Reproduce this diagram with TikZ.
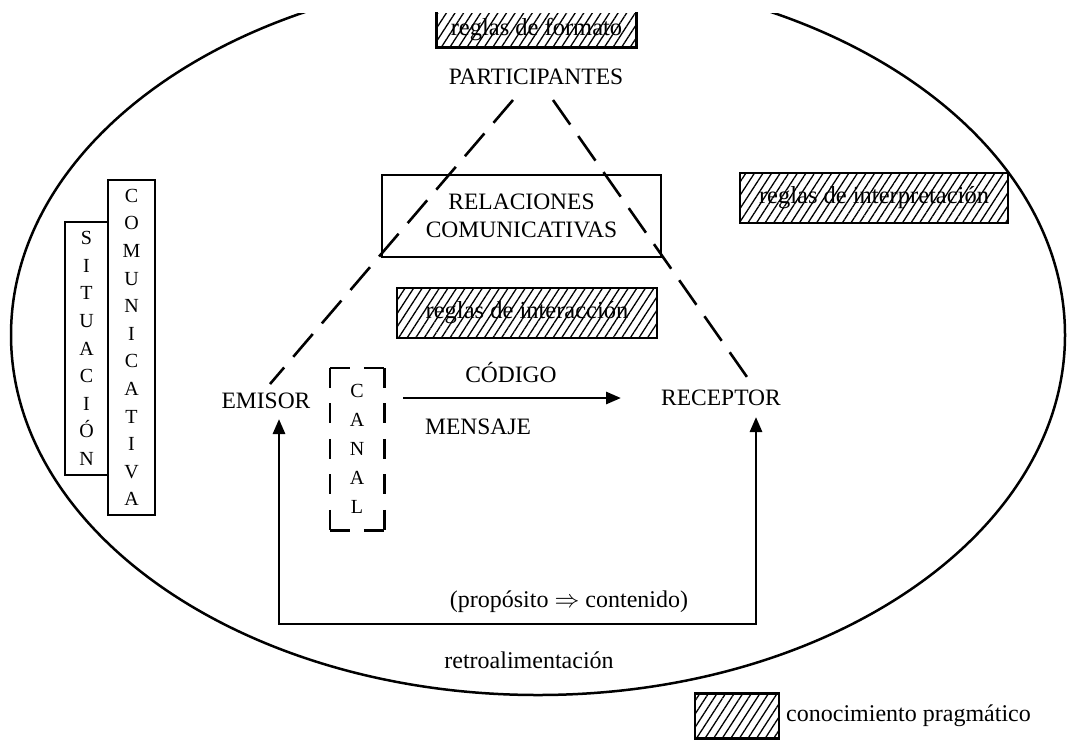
\documentclass[tikz,border=0pt]{standalone}
\usepackage{fontspec}
\setmainfont{Liberation Serif}
\usetikzlibrary{arrows.meta,patterns.meta}
\begin{document}
\begin{tikzpicture}[x=1pt,y=-1pt,
  lbl/.style={font=\fontsize{23.5}{28}\selectfont, inner sep=0pt},
  lowlbl/.style={font=\fontsize{24}{28}\selectfont, inner sep=0pt},
  vlet/.style={font=\fontsize{20}{27.6}\selectfont, align=center, inner sep=0pt},
  boxline/.style={draw, line width=2.6pt},
  hatchbox/.style={pattern={Lines[angle=57,distance=7.2pt,line width=1.3pt]},
                   font=\fontsize{24.5}{28}\selectfont, inner sep=0pt},
  dashline/.style={line width=2.6pt, dash pattern=on 30pt off 14pt},
  arr/.style={line width=2.8pt, -{Triangle[length=15pt,width=12pt]}},
  canalv/.style={line width=2.6pt, dash pattern=on 20pt off 15.5pt},
  canalh/.style={line width=2.6pt, dash pattern=on 20pt off 14pt},
]
\useasboundingbox (0,0) rectangle (1070,740);
\fill[white] (0,0) rectangle (1070,740);

% outer ellipse (scan cut at the top)
\begin{scope}
  \clip (0,13) rectangle (1070,740);
  \draw[line width=2.5pt] (538,335) ellipse [x radius=527, y radius=360];
\end{scope}

% reglas de formato (top edge cut)
\node[hatchbox, minimum width=199, minimum height=34] (formato) at (536.5,30) {reglas de formato};
\draw[line width=2.6pt] (formato.north west) -- (formato.south west) -- (formato.south east) -- (formato.north east);

% participantes
\node[lbl] (part) at (536,77) {PARTICIPANTES};

% relaciones comunicativas
\node[boxline, lbl, align=center, minimum width=279, minimum height=82] (rel) at (521.5,216) {RELACIONES\\COMUNICATIVAS};

% reglas de interpretacion
\node[hatchbox, boxline, minimum width=268, minimum height=50] (interp) at (874,198) {reglas de interpretación};

% reglas de interaccion
\node[hatchbox, boxline, minimum width=260, minimum height=50] (interac) at (527,313) {reglas de interacción};

% situacion comunicativa
\node[boxline, vlet, minimum width=47, minimum height=335] (comu) at (131.5,347.5)
  {C\\O\\M\\U\\N\\I\\C\\A\\T\\I\\V\\A};
\node[boxline, vlet, minimum width=43, minimum height=253] (sit) at (86.5,348.5)
  {S\\I\\T\\U\\A\\C\\I\\Ó\\N};

% emisor, receptor
\node[lbl] (emisor) at (266,401) {EMISOR};
\node[lbl] (receptor) at (721,398) {RECEPTOR};

% dashed lines from participantes
\coordinate (pl) at (513,100);
\coordinate (pr) at (553,100);
\coordinate (el) at (270,384);
\coordinate (er) at (747,377);
\draw[dashline] (pl) -- (el);
\draw[dashline] (pr) -- (er);

% canal
\node[vlet, font=\fontsize{20}{29}\selectfont, minimum width=54, minimum height=162] (canal) at (357,449) {C\\A\\N\\A\\L};
\draw[canalh] (canal.north west) -- (canal.north east);
\draw[canalh] (canal.south west) -- (canal.south east);
\draw[canalv] (canal.north west) -- (canal.south west);
\draw[canalv] (canal.north east) -- (canal.south east);

% codigo / mensaje arrow
\coordinate (cs) at (403,398);
\coordinate (ce) at (621,398);
\draw[arr] (cs) -- (ce);
\node[lbl] (codigo) at (511,373) {CÓDIGO};
\node[lbl] (mensaje) at (478,427) {MENSAJE};

% feedback
\coordinate (tipL) at (279,419);
\coordinate (tipR) at (756,417);
\coordinate (fbL) at (279,624);
\coordinate (fbR) at (756,624);
\draw[line width=2.8pt, {Triangle[length=15pt,width=12pt]}-{Triangle[length=15pt,width=12pt]}]
  (tipL) -- (fbL) -- (fbR) -- (tipR);
\node[lowlbl] (prop) at (569,602) {(propósito $\Rightarrow$ contenido)};
\node[lowlbl] (retro) at (529,660) {retroalimentación};

% legend
\node[hatchbox, boxline, minimum width=84, minimum height=45] (leg) at (737,716) {};
\node[lowlbl, anchor=west] (legtxt) at (786,716) {conocimiento pragmático};
\end{tikzpicture}
\end{document}
